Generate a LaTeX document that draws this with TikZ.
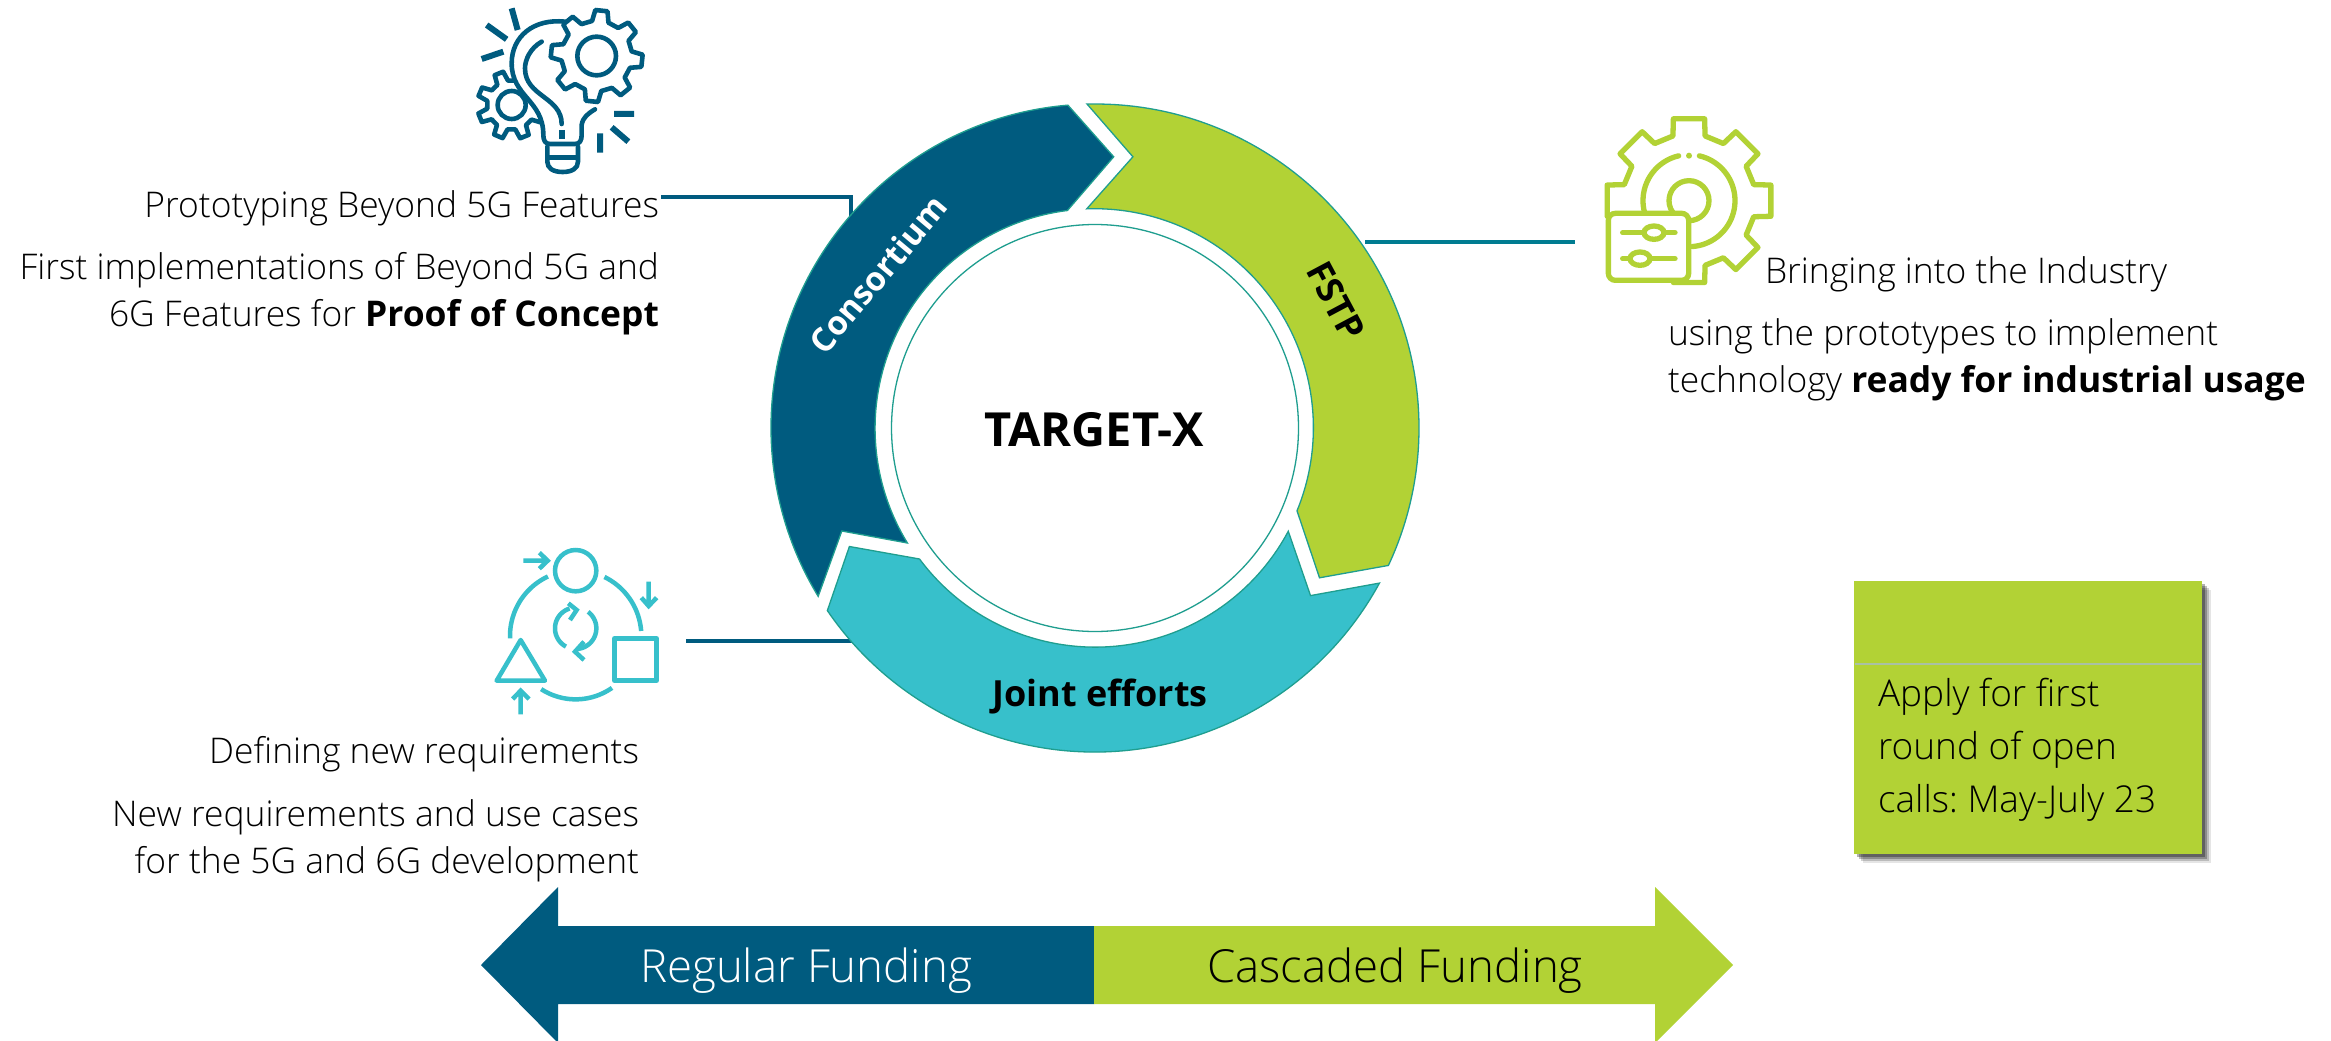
\documentclass[tikz,border=0pt]{standalone}
\usepackage{fontspec}
\setmainfont{Open Sans Light}[BoldFont={Open Sans Bold}]
\usetikzlibrary{calc}
\definecolor{dkblue}{HTML}{005B7F}
\definecolor{lime}{HTML}{B2D235}
\definecolor{cyanb}{HTML}{37C0CB}
\definecolor{rimc}{HTML}{1F9E8F}
\definecolor{linkc}{HTML}{007C91}
\definecolor{divc}{HTML}{A9C1A5}
\tikzset{
 wedge/.style={draw=rimc,line width=1.3pt,line join=miter},
 leaderdark/.style={draw=dkblue,line width=3.5pt},
 leaderteal/.style={draw=linkc,line width=3.5pt},
 txt/.style={inner sep=0pt,outer sep=0pt,font=\fontsize{35.4}{47}\selectfont,text=black},
 bigarrowtxt/.style={inner sep=0pt,anchor=base,font=\fontsize{45.6}{50}\selectfont},
 iconline/.style={line width=#1,line join=round,line cap=round},
}
\newcommand\gearpath[9]{%
 \pgfmathsetmacro\gstep{360/#5}
 \draw[#9,shift={(#1,#2)}] (#6+\gstep-#8*\gstep:#4)
  \foreach \k [evaluate=\k as \ga using #6+\k*\gstep] in {1,...,#5}{
    -- (\ga-#8*\gstep:#4) -- (\ga-#7*\gstep:#3) -- (\ga+#7*\gstep:#3) -- (\ga+#8*\gstep:#4)} -- cycle;}
\newcommand\iconarc[6][]{%
 \draw[#1] plot[domain=#5:#6,samples=40] ({#2+#4*cos(\x)},{#3+#4*sin(\x)});}
\begin{document}
\frenchspacing
\begin{tikzpicture}[x=1pt,y=1pt]
\useasboundingbox (0,-1041) rectangle (2331,0);
\fill[white] (0,-1041) rectangle (2331,0);
\coordinate (c) at (1095,-428);

% text
\node[txt,anchor=north east,align=right] (proto) at (659,-191) {Prototyping Beyond 5G Features};
\node[txt,anchor=north east,align=right] (protod) at (659,-252) {First implementations of Beyond 5G and\\6G Features for \textbf{Proof of Concept}};
\node[txt,anchor=north west,align=left] (bring) at (1765,-257) {Bringing into the Industry};
\node[txt,anchor=north west,align=left] (bringd) at (1668,-319) {using the prototypes to implement\\technology \textbf{ready for industrial usage}};
\node[txt,anchor=north east,align=right] (defn) at (639,-736) {Defining new requirements};
\node[txt,anchor=north east,align=right] (defnd) at (639,-800) {New requirements and use cases\\for the 5G and 6G development};

% leaders
\coordinate (consAnchor) at (851,-225);
\coordinate (fstpAnchor) at (1365,-242);
\coordinate (fstpEnd) at (1575,-242);
\coordinate (jointAnchor) at (852,-641);
\coordinate (jointEnd) at (686,-641);
\draw[leaderdark] (proto.east) ++(2,11.5) -| (consAnchor);
\draw[leaderteal] (fstpAnchor) -- (fstpEnd);
\draw[leaderdark] (jointEnd) -- (jointAnchor);

% ring
\draw[wedge,fill=dkblue] ($(c)+(94.8:324)$) arc[start angle=94.8,end angle=211.3,radius=324]
  -- (841.8,-531) -- (907.4,-543) arc[start angle=211.5,end angle=97.1,radius=219.5]
  -- (1113.7,-156.8) -- cycle;
\draw[wedge,fill=lime] ($(c)+(91.4:324)$) arc[start angle=91.4,end angle=-25.1,radius=324]
  -- (1319.5,-577.8) -- (1297,-510.8) arc[start angle=-22.3,end angle=92,radius=219]
  -- (1132.9,-156.8) -- cycle;
\draw[wedge,fill=cyanb] ($(c)+(-28.6:324)$) arc[start angle=-28.6,end angle=-145.7,radius=324]
  -- (849.4,-546.5) -- (919.5,-559) arc[start angle=-143.3,end angle=-28.1,radius=219]
  -- (1310.5,-595.6) -- cycle;
\node[draw=rimc,line width=1.3pt,fill=white,circle,minimum size=407pt,inner sep=0pt,font=\fontsize{47}{50}\selectfont\bfseries] (core) at (c) {};
\node[inner sep=0pt,font=\fontsize{47}{50}\selectfont\bfseries] (title) at (1094,-430) {TARGET-X};
\node[inner sep=0pt,rotate=50,text=white,font=\fontsize{33}{40}\selectfont\bfseries] (cons) at (878,-274) {Consortium};
\node[inner sep=0pt,rotate=-62,font=\fontsize{36}{40}\selectfont\bfseries] (fstp) at (1336,-301) {FSTP};
\node[inner sep=0pt,font=\fontsize{36}{40}\selectfont\bfseries] (joint) at (1100,-696) {Joint efforts};

% funding arrow
\fill[dkblue] (1094,-926) -- (558,-926) -- (558,-887) -- (481,-965) -- (558,-1043) -- (558,-1004) -- (1094,-1004) -- cycle;
\fill[lime] (1094,-926) -- (1655,-926) -- (1655,-887) -- (1733,-965) -- (1655,-1043) -- (1655,-1004) -- (1094,-1004) -- cycle;
\node[bigarrowtxt,text=white] (reg) at (806,-982) {Regular Funding};
\node[bigarrowtxt,text=black] (cas) at (1395,-982) {Cascaded Funding};

% apply box
\foreach \o/\a in {9/.10,7/.18,5/.25,3/.3}
  \fill[black,opacity=\a] (1854+\o,-581-\o) rectangle (2202+\o,-854-\o);
\fill[lime] (1854,-581) rectangle (2202,-854);
\draw[color=divc,line width=2pt] (1855,-663.7) -- (2201,-663.7);
\node[txt,anchor=north west,align=left,font=\fontsize{37}{53}\selectfont] (apply) at (1878,-678) {Apply for first\\round of open\\calls: May-July 23};

% icon 1
\begin{scope}[shift={(450,0)},x=.33333pt,y=-.33333pt]
 \gearpath{185}{315}{103}{74}{8}{-22}{.17}{.3}{draw=dkblue,line width=4.6pt,line join=round,fill=white}
 \draw[dkblue,line width=4.6pt,fill=white] (185,315) circle[radius=42];
 \fill[white] (345,65) .. controls (250,55) and (185,110) .. (185,190) .. controls (185,290) and (280,300) .. (280,375) -- (280,430) -- (395,430) -- (395,370) .. controls (400,350) and (415,340) .. (435,328) -- cycle;
 \draw[dkblue,iconline=4.6pt] (345,65) .. controls (250,55) and (185,110) .. (185,190) .. controls (185,290) and (280,300) .. (280,405) .. controls (280,420) and (285,432) .. (300,432) -- (375,432) .. controls (390,432) and (395,420) .. (395,405) -- (395,375) .. controls (398,352) and (415,340) .. (435,328);
 \draw[dkblue,iconline=4.6pt] (275,125) .. controls (240,145) and (225,180) .. (225,205) .. controls (225,290) and (335,290) .. (335,372);
 \draw[dkblue,line width=6pt] (336,390) -- (336,416);
 \draw[dkblue,iconline=4.6pt] (292,440) -- (292,485) .. controls (292,505) and (310,516) .. (338,516) .. controls (366,516) and (384,505) .. (384,485) -- (384,440);
 \draw[dkblue,line width=4.6pt] (295,472) -- (382,472);
 \gearpath{440}{168}{138}{106}{8}{-84}{.17}{.3}{draw=dkblue,line width=4.6pt,line join=round,fill=white}
 \draw[dkblue,line width=4.6pt] (440,168) circle[radius=58];
 \draw[dkblue,line width=6pt] (185,25) -- (203,90) (110,75) -- (170,118) (95,177) -- (160,155) (492,342) -- (552,342) (485,382) -- (535,425) (450,400) -- (450,458);
\end{scope}

% icon 2
\begin{scope}[shift={(1580,-100)},x=.33333pt,y=-.33333pt]
 \gearpath{327}{302}{250}{200}{8}{0}{.24}{.31}{draw=lime,line width=5.3pt,line join=round}
 \fill[lime] (327,167) circle[radius=9];
 \iconarc[lime,iconline=5.3pt]{327}{302}{138}{-77}{86}
 \iconarc[lime,iconline=5.3pt]{327}{302}{138}{-103}{-194}
 \draw[lime,line width=5.3pt] (327,302) circle[radius=60];
 \draw[lime,line width=5.3pt,fill=white,rounded corners=7pt] (85,340) rectangle (326,541);
 \draw[lime,iconline=5.3pt] (128,398) -- (285,398) (128,476) -- (285,476);
 \draw[lime,line width=5.3pt,fill=white] (222,398) ellipse[x radius=30,y radius=20];
 \draw[lime,line width=5.3pt,fill=white] (180,476) ellipse[x radius=30,y radius=20];
\end{scope}

% icon 3
\begin{scope}[shift={(480,-530)},x=.33333pt,y=-.33333pt]
 \draw[cyanb,line width=4.5pt] (287,122) circle[radius=62];
 \iconarc[cyanb,line width=4.5pt]{287}{318}{197}{-115}{-182}
 \iconarc[cyanb,line width=4.5pt]{287}{318}{197}{-64}{-4.4}
 \iconarc[cyanb,line width=4.5pt]{287}{318}{190}{123}{55}
 \draw[cyanb,line width=4.5pt,line join=round] (122,330) -- (195,452) -- (50,452) -- cycle;
 \draw[cyanb,line width=4.5pt,line join=round] (403,325) rectangle (530,452);
 \draw[cyanb,line width=4.5pt] (130,92) -- (200,92) (178,68) -- (203,92) -- (178,116);
 \draw[cyanb,line width=4.5pt] (506,155) -- (506,225) (484,203) -- (506,228) -- (530,203);
 \draw[cyanb,line width=4.5pt] (122,553) -- (122,485) (98,507) -- (122,482) -- (147,507);
 \iconarc[cyanb,line width=4.5pt]{287}{295}{62}{-107}{-242}
 \iconarc[cyanb,line width=4.5pt]{287}{295}{62}{-53}{83}
 \draw[cyanb,line width=4.5pt] (265,220) -- (290,240) -- (270,270);
 \draw[cyanb,line width=4.5pt] (312,335) -- (285,365) -- (312,390);
\end{scope}
\end{tikzpicture}
\end{document}
